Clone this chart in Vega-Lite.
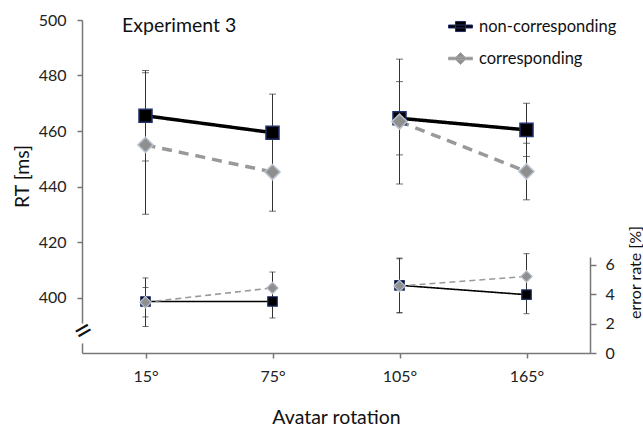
{
  "$schema": "https://vega.github.io/schema/vega-lite/v6.json",
  "width": 508,
  "height": 333,
  "autosize": {"type": "none"},
  "padding": {"left": 82, "top": 20, "right": 53, "bottom": 74},
  "background": "white",
  "config": {"font": "Lato", "view": {"stroke": null}, "axis": {"grid": false}},
  "title": {"text": "Experiment 3", "anchor": "start", "frame": "group", "orient": "top", "offset": 0, "dx": 40, "dy": 39, "baseline": "alphabetic", "fontSize": 19.5, "fontWeight": "normal", "color": "#111", "font": "Lato"},
  "data": {"values": [
    {"rotation": "15°", "condition": "non-corresponding", "pair": "a", "rt": 465.5, "rt_lo": 449.2, "rt_hi": 481.8, "err": 3.5, "err_lo": 2.45, "err_hi": 4.45},
    {"rotation": "15°", "condition": "corresponding", "pair": "a", "rt": 455, "rt_lo": 430, "rt_hi": 481, "err": 3.45, "err_lo": 1.8, "err_hi": 5.1},
    {"rotation": "75°", "condition": "non-corresponding", "pair": "a", "rt": 459.4, "rt_lo": 445.4, "rt_hi": 473.3, "err": 3.5, "err_lo": 2.38, "err_hi": 4.62},
    {"rotation": "75°", "condition": "corresponding", "pair": "a", "rt": 445.2, "rt_lo": 431.1, "rt_hi": 459.3, "err": 4.42, "err_lo": 3.34, "err_hi": 5.5},
    {"rotation": "105°", "condition": "non-corresponding", "pair": "b", "rt": 464.6, "rt_lo": 451.4, "rt_hi": 477.8, "err": 4.6, "err_lo": 2.75, "err_hi": 6.45},
    {"rotation": "105°", "condition": "corresponding", "pair": "b", "rt": 463.4, "rt_lo": 440.9, "rt_hi": 485.9, "err": 4.55, "err_lo": 2.72, "err_hi": 6.4},
    {"rotation": "165°", "condition": "non-corresponding", "pair": "b", "rt": 460.4, "rt_lo": 450.8, "rt_hi": 470, "err": 3.96, "err_lo": 2.67, "err_hi": 5.25},
    {"rotation": "165°", "condition": "corresponding", "pair": "b", "rt": 445.4, "rt_lo": 435.2, "rt_hi": 455.6, "err": 5.2, "err_lo": 3.65, "err_hi": 6.75}
  ]},
  "encoding": {
    "x": {
      "field": "rotation", "type": "nominal", "sort": ["15°", "75°", "105°", "165°"],
      "scale": {"type": "point", "padding": 0.5},
      "axis": {"title": "Avatar rotation", "labelAngle": 0, "labelFontSize": 16, "labelColor": "#222", "labelPadding": 10, "tickSize": 5, "tickColor": "#777", "tickWidth": 1.5, "domainColor": "#777", "domainWidth": 1.5, "titleFontSize": 19.5, "titleFontWeight": "normal", "titleColor": "#111", "titlePadding": 24}
    }
  },
  "layer": [
    {
      "encoding": {
        "y": {"type": "quantitative", "title": "RT [ms]", "scale": {"domain": [380, 500], "nice": false, "zero": false},
          "axis": {"orient": "left", "values": [400, 420, 440, 460, 480, 500],
            "titleFontSize": 19.5, "titleFontWeight": "normal", "titleColor": "#111", "titleAngle": 270, "titleX": -60, "titleY": 156, "titleAlign": "center", "titleBaseline": "middle",
            "labelFontSize": 16, "labelColor": "#222", "labelPadding": 11,
            "tickSize": 5, "tickWidth": 1.5, "tickColor": "#777", "domainColor": "#777", "domainWidth": 1.5, "domainDash": [10, 20, 1000]
          }}
      },
      "layer": [
        {
          "mark": {"type": "rule", "color": "#333", "strokeWidth": 1},
          "encoding": {"y": {"field": "rt_lo"}, "y2": {"field": "rt_hi"}}
        },
        {
          "mark": {"type": "tick", "color": "#333", "thickness": 1, "size": 7},
          "encoding": {"y": {"field": "rt_lo"}}
        },
        {
          "mark": {"type": "tick", "color": "#333", "thickness": 1, "size": 7},
          "encoding": {"y": {"field": "rt_hi"}}
        },
        {
          "mark": {"type": "line", "strokeWidth": 3.5},
          "encoding": {
            "y": {"field": "rt"},
            "detail": {"field": "pair", "type": "nominal"},
            "color": {"field": "condition", "type": "nominal", "scale": {"domain": ["non-corresponding", "corresponding"], "range": ["#000000", "#999999"]}, "legend": null},
            "strokeDash": {"field": "condition", "type": "nominal", "scale": {"domain": ["non-corresponding", "corresponding"], "range": [[1, 0], [10, 7]]}, "legend": null}
          }
        },
        {
          "mark": {"type": "point", "filled": true, "opacity": 1, "strokeWidth": 1.5},
          "encoding": {
            "y": {"field": "rt"},
            "shape": {"field": "condition", "type": "nominal", "scale": {"domain": ["non-corresponding", "corresponding"], "range": ["square", "diamond"]}, "legend": null},
            "fill": {"field": "condition", "type": "nominal", "scale": {"domain": ["non-corresponding", "corresponding"], "range": ["#000000", "#8f8f8f"]}, "legend": null},
            "stroke": {"field": "condition", "type": "nominal", "scale": {"domain": ["non-corresponding", "corresponding"], "range": ["#22306a", "#b9c2d0"]}, "legend": null},
            "size": {"field": "condition", "type": "nominal", "scale": {"domain": ["non-corresponding", "corresponding"], "range": [170, 230]}, "legend": null}
          }
        }
      ]
    },
    {
      "encoding": {
        "y": {"type": "quantitative", "title": "error rate [%]", "scale": {"domain": [0, 22.62], "nice": false},
          "axis": {"orient": "right", "values": [0, 2, 4, 6], "titleFontSize": 16, "titleFontWeight": "normal", "titleColor": "#111", "titleAngle": 270, "titleX": 45, "titleY": 252, "titleAlign": "center", "titleBaseline": "middle",
            "labelFontSize": 16, "labelColor": "#222", "labelPadding": 9, "tickSize": 6, "tickWidth": 1.5, "tickColor": "#777", "domainColor": "#777", "domainWidth": 1.5, "domainDash": [96, 1000]}}
      },
      "layer": [
        {
          "mark": {"type": "rule", "color": "#333", "strokeWidth": 1},
          "encoding": {"y": {"field": "err_lo"}, "y2": {"field": "err_hi"}}
        },
        {
          "mark": {"type": "tick", "color": "#333", "thickness": 1, "size": 6},
          "encoding": {"y": {"field": "err_lo"}}
        },
        {
          "mark": {"type": "tick", "color": "#333", "thickness": 1, "size": 6},
          "encoding": {"y": {"field": "err_hi"}}
        },
        {
          "mark": {"type": "line", "strokeWidth": 1.6},
          "encoding": {
            "y": {"field": "err"},
            "detail": {"field": "pair", "type": "nominal"},
            "color": {"field": "condition", "type": "nominal", "scale": {"domain": ["non-corresponding", "corresponding"], "range": ["#000000", "#999999"]}, "legend": null},
            "strokeDash": {"field": "condition", "type": "nominal", "scale": {"domain": ["non-corresponding", "corresponding"], "range": [[1, 0], [6, 4]]}, "legend": null}
          }
        },
        {
          "mark": {"type": "point", "filled": true, "opacity": 1, "strokeWidth": 1.2},
          "encoding": {
            "y": {"field": "err"},
            "shape": {"field": "condition", "type": "nominal", "scale": {"domain": ["non-corresponding", "corresponding"], "range": ["square", "diamond"]}, "legend": null},
            "fill": {"field": "condition", "type": "nominal", "scale": {"domain": ["non-corresponding", "corresponding"], "range": ["#000000", "#8f8f8f"]}, "legend": null},
            "stroke": {"field": "condition", "type": "nominal", "scale": {"domain": ["non-corresponding", "corresponding"], "range": ["#22306a", "#b9c2d0"]}, "legend": null},
            "size": {"field": "condition", "type": "nominal", "scale": {"domain": ["non-corresponding", "corresponding"], "range": [90, 130]}, "legend": null}
          }
        }
      ]
    },
    {
      "mark": {"type": "point", "filled": true, "opacity": 0, "size": 576, "strokeWidth": 1},
      "encoding": {
        "y": {"field": "rt", "type": "quantitative", "scale": {"domain": [380, 500], "nice": false, "zero": false},
          "axis": {"orient": "left", "values": [388], "labelExpr": "'='", "title": null, "domain": false, "ticks": false, "tickSize": 0,
            "labelAngle": -30, "labelFontSize": 32, "labelColor": "#111", "labelAlign": "center", "labelBaseline": "middle", "labelPadding": -1}},
        "shape": {"field": "condition", "type": "nominal",
          "scale": {"domain": ["non-corresponding", "corresponding"], "range": ["M-1,-0.125H1V0.125H-1ZM-0.42,-0.42H0.42V0.42H-0.42Z", "M-1,-0.11H1V0.11H-1ZM0,-0.5L0.5,0L0,0.5L-0.5,0Z"]},
          "legend": {"orient": "none", "legendX": 366, "legendY": -6, "title": null, "padding": 0, "symbolSize": 576, "symbolOpacity": 1, "symbolStrokeWidth": 1, "labelFontSize": 16.5, "labelFont": "Lato", "labelColor": "#111", "labelOffset": 6, "rowPadding": 11}},
        "fill": {"field": "condition", "type": "nominal", "scale": {"domain": ["non-corresponding", "corresponding"], "range": ["#000000", "#8f8f8f"]}},
        "stroke": {"field": "condition", "type": "nominal", "scale": {"domain": ["non-corresponding", "corresponding"], "range": ["#22306a", "#a8a8a8"]}}
      }
    }
  ],
  "resolve": {"scale": {"y": "independent", "color": "independent", "strokeDash": "independent", "size": "independent", "fill": "independent", "stroke": "independent", "shape": "independent"}}
}
